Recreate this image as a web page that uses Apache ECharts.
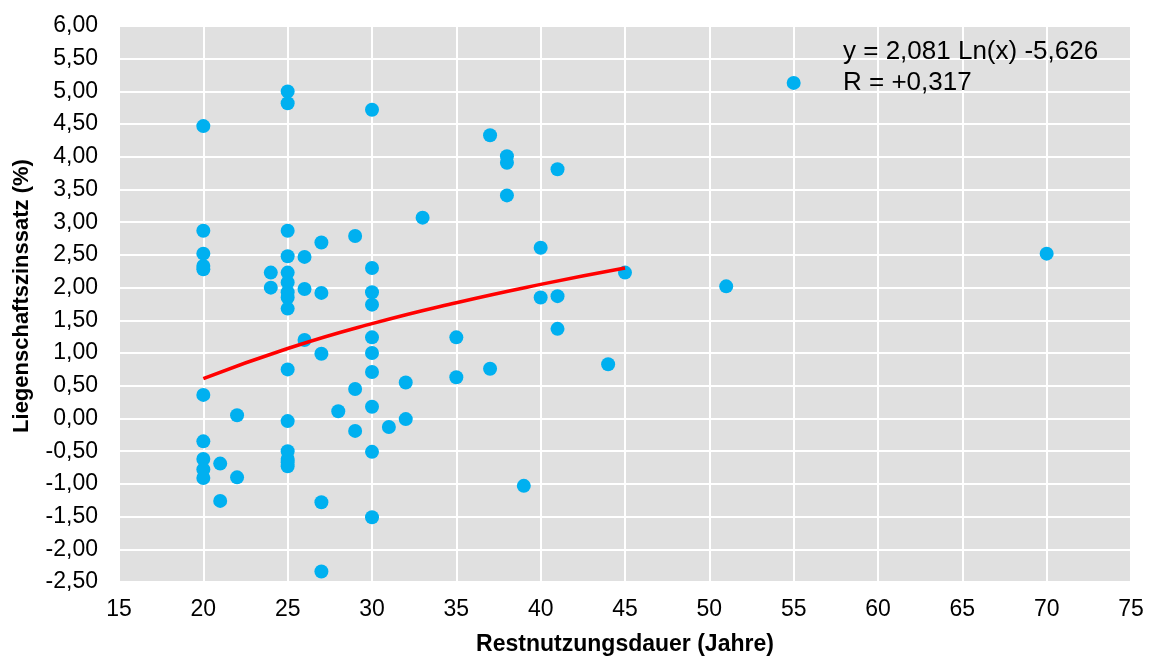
<!DOCTYPE html>
<html>
<head>
<meta charset="utf-8">
<script src="https://cdn.jsdelivr.net/npm/echarts@6/dist/echarts.min.js"></script>
<style>
	html, body { margin: 0; padding: 0; background: #fff; }
	#chart { width: 1150px; height: 659px; }
</style>
</head>
<body>
<div id="chart"></div>
<script>
	// Restnutzungsdauer (Jahre) je Objekt
	const restnutzung = [
		20, 20, 20, 20, 20, 20, 20, 20, 20, 20,
		21, 21, 22, 22, 24, 24,
		25, 25, 25, 25, 25, 25, 25, 25, 25, 25, 25, 25, 25, 25, 25,
		26, 26, 26,
		27, 27, 27, 27, 27,
		28, 29, 29, 29,
		30, 30, 30, 30, 30, 30, 30, 30, 30, 30,
		31, 32, 32, 33, 35, 35, 37, 37,
		38, 38, 38, 39, 40, 40, 41, 41, 41,
		44, 45, 51, 55, 70
	];
	// Liegenschaftszinssatz (%)
	const zinssatz = [
		4.47, 2.87, 2.52, 2.33, 2.28, 0.36, -0.35, -0.62, -0.78, -0.91,
		-0.69, -1.26, 0.05, -0.90, 2.23, 2.00,
		5.00, 4.82, 2.87, 2.48, 2.23, 2.08, 1.93, 1.85, 1.68, 0.75, -0.04, -0.50, -0.62, -0.67, -0.73,
		2.47, 1.98, 1.20,
		2.69, 1.92, 0.99, -1.28, -2.34,
		0.11, 2.79, 0.45, -0.19,
		4.72, 2.30, 1.93, 1.74, 1.24, 1.00, 0.71, 0.18, -0.51, -1.51,
		-0.13, 0.55, -0.01, 3.07, 1.24, 0.63, 4.33, 0.76,
		4.01, 3.91, 3.41, -1.03, 2.61, 1.85, 3.81, 1.87, 1.37,
		0.83, 2.23, 2.02, 5.13, 2.52
	];
	// Trendlinie (logarithmisch)
	const trendX = [20, 25, 30, 35, 40, 45];
	const trendY = [0.61, 1.07, 1.45, 1.77, 2.05, 2.30];

	const equationLines = ["y = 2,081 Ln(x) -5,626", "R = +0,317"];

	const xTicks = { min: 15, max: 75, step: 5 };
	const yTicks = { min: -2.5, max: 6, step: 0.5 };

	const fontFamily = "'Liberation Sans', Arial, sans-serif";

	const chart = echarts.init(document.getElementById("chart"));

	const option = {
		animation: false,
		grid: {
			left: 119,
			right: 19,
			top: 26,
			bottom: 77,
			show: true,
			backgroundColor: "#e0e0e0",
			borderWidth: 0,
			containLabel: false,
			outerBoundsMode: "none"
		},
		xAxis: {
			type: "value",
			min: xTicks.min,
			max: xTicks.max,
			interval: xTicks.step,
			name: "Restnutzungsdauer (Jahre)",
			nameLocation: "middle",
			nameGap: 51,
			nameTextStyle: { fontFamily, fontSize: 23, fontWeight: "bold", color: "#000" },
			axisLine: { show: false },
			axisTick: { show: false },
			axisLabel: { fontFamily, fontSize: 23, color: "#000", margin: 16 },
			splitLine: { lineStyle: { color: "#fff", width: 2 } }
		},
		yAxis: {
			type: "value",
			min: yTicks.min,
			max: yTicks.max,
			interval: yTicks.step,
			name: "Liegenschaftszinssatz (%)",
			nameLocation: "middle",
			nameGap: 86,
			nameTextStyle: {
				fontFamily,
				fontSize: 22,
				fontWeight: "bold",
				color: "#000",
				padding: [0, 0, 0, 16]
			},
			axisLine: { show: false },
			axisTick: { show: false },
			axisLabel: {
				fontFamily,
				fontSize: 23,
				color: "#000",
				margin: 21,
				formatter: v => v.toFixed(2).replace(".", ",")
			},
			splitLine: { lineStyle: { color: "#fff", width: 2 } }
		},
		graphic: equationLines.map((line, i) => ({
			type: "text",
			left: 843,
			top: 39 + i * 31,
			z: 100,
			style: { text: line, fontFamily, fontSize: 26, fill: "#000" }
		})),
		series: [
			{
				type: "scatter",
				symbol: "circle",
				symbolSize: 14,
				itemStyle: { color: "#00b0f0", opacity: 1 },
				data: restnutzung.map((x, i) => [x, zinssatz[i]]),
				z: 2
			},
			{
				type: "line",
				smooth: true,
				showSymbol: false,
				lineStyle: { color: "#ff0000", width: 3.5 },
				data: trendX.map((x, i) => [x, trendY[i]]),
				z: 3
			}
		]
	};

	chart.setOption(option);
	window.addEventListener("resize", () => chart.resize());
</script>
</body>
</html>
